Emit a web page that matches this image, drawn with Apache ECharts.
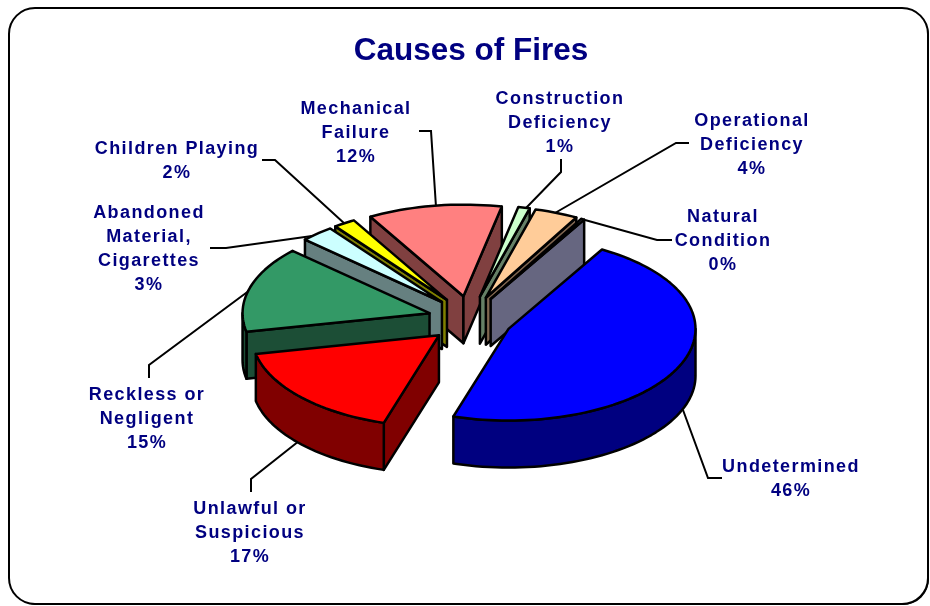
<!DOCTYPE html>
<html lang="en">
<head>
	<meta charset="UTF-8">
	<title>Causes of Fires</title>
	<script src="https://cdn.jsdelivr.net/npm/echarts@6/dist/echarts.min.js"></script>
	<style>
		html,body{margin:0;padding:0;background:#fff;}
		#box{width:930px;height:606px;}
	</style>
</head>
<body>
<div id="box"></div>
<script>
	// clockwise, starting from the Undetermined slice
	const categories=['Undetermined','Unlawful or\nSuspicious','Reckless or\nNegligent','Abandoned\nMaterial,\nCigarettes','Children Playing','Mechanical\nFailure','Construction\nDeficiency','Operational\nDeficiency','Natural\nCondition'];
	const values=[46.5,17,15.2,2.9,1.9,11.6,1,3.75,0.3];
	const topColors=['#0000ff','#ff0000','#339966','#ccffff','#ffff00','#ff8080','#ccffcc','#ffcc99','#ccccff'];
	const sideColors=['#000080','#800000','#1c4e36','#668080','#808000','#804040','#668066','#806650','#666680'];

	// where the labels sit: centre x, centre y of first line
	const labelX=[791,250,147,149,177,356,560,752,723];
	const labelY=[467,509,395,213,149,109,99,121,217];
	const leaders=[
		[[722,478],[708,478],[683,410]],
		[[251,492],[251,479],[299,441]],
		[[149,378],[149,365],[250,290]],
		[[210,248],[226,248],[312,236]],
		[[262,160],[275,160],[345,224]],
		[[419,131],[431,131],[436,207]],
		[[561,159],[561,172],[526,208]],
		[[689,143],[676,143],[555,213]],
		[[672,240],[657,240],[585,220]]
	];

	const cx=470,cy=319.5,R=187,squash=0.49,liftSquash=0.56,depth=47,explode=42,startDeg=30;
	const total=values.reduce((a,b)=>a+b,0);
	const rad=d=>d*Math.PI/180;

	// angle bounds of every slice, clockwise from north
	let acc=startDeg;
	const slices=values.map((v,i)=>{
		let a0=acc;
		acc+=v/total*360;
		return {i:i,a0:a0,a1:acc,mid:(a0+acc)/2};
	});
	// back slices first
	const order=slices.slice().sort((a,b)=>Math.cos(rad(b.mid))-Math.cos(rad(a.mid)));

	function renderSlice(params,api){
		let s=slices[api.value(0)];
		let ox=cx+Math.sin(rad(s.mid))*explode;
		let oy=cy-Math.cos(rad(s.mid))*explode*liftSquash;
		let rim=a=>[ox+Math.sin(rad(a))*R,oy-Math.cos(rad(a))*R*squash];
		let down=p=>[p[0],p[1]+depth];
		let style={fill:sideColors[s.i],stroke:'#000',lineWidth:2.5,lineJoin:'round'};
		let poly=(pts,st)=>({type:'polygon',shape:{points:pts},style:st});
		let kids=[];
		let A=rim(s.a0),B=rim(s.a1),O=[ox,oy];
		if(Math.sin(rad(s.a0))<0) kids.push(poly([O,A,down(A),down(O)],style));
		if(Math.sin(rad(s.a1))>0) kids.push(poly([O,B,down(B),down(O)],style));
		// outer wall: only the part that faces the viewer
		[[90,270],[450,630]].forEach(r=>{
			let from=Math.max(s.a0,r[0]),to=Math.min(s.a1,r[1]);
			if(to>from){
				let up=[];
				for(let a=from;a<to;a+=2) up.push(rim(a));
				up.push(rim(to));
				kids.push(poly(up.concat(up.map(down).reverse()),style));
			}
		});
		let top=[O];
		for(let a=s.a0;a<s.a1;a+=2) top.push(rim(a));
		top.push(B);
		kids.push(poly(top,{fill:topColors[s.i],stroke:'#000',lineWidth:2.5,lineJoin:'round'}));
		return {type:'group',children:kids};
	}

	function renderLabel(params,api){
		let i=api.value(0);
		let pct=Math.round(values[i]/total*100);
		return {
			type:'text',
			style:{
				x:labelX[i],y:labelY[i]-12,
				text:categories[i]+'\n'+pct+'%',
				fill:'#000080',
				font:'bold 18px "Liberation Sans"',
				lineHeight:24,
				align:'center',verticalAlign:'top'
			}
		};
	}

	const frame={x:9,y:8,width:919,height:596,r:26};
	const options={
		animation:false,
		backgroundColor:'#fff',
		title:{
			text:'Causes of Fires',
			left:466,top:27,textAlign:'center',
			textStyle:{color:'#000080',fontFamily:'Liberation Sans',fontWeight:'bold',fontSize:31.5,lineHeight:38}
		},
		graphic:[
			{type:'rect',z:-3,shape:{x:frame.x+2,y:frame.y+2,width:frame.width-1,height:frame.height-1,r:frame.r},style:{fill:'#000'}},
			{type:'rect',z:-2,shape:frame,style:{fill:'#fff',stroke:'#000',lineWidth:2}}
		].concat(leaders.map(pts=>({
			type:'polyline',z:-1,shape:{points:pts},style:{fill:'none',stroke:'#000',lineWidth:2}
		}))),
		series:[
			{type:'custom',coordinateSystem:'none',data:order.map(s=>[s.i]),renderItem:renderSlice,silent:true},
			{type:'custom',coordinateSystem:'none',zlevel:1,data:values.map((v,i)=>[i]),renderItem:renderLabel,silent:true}
		]
	};

	let box=document.getElementById('box');
	let chart=echarts.init(box);
	chart.setOption(options);
	// the labels have their own canvas layer, spaced out like the original
	let canvases=box.querySelectorAll('canvas');
	if(canvases.length>1){
		canvases[1].getContext('2d').letterSpacing='1.4px';
		chart.clear();
		chart.setOption(options);
	}
</script>
</body>
</html>
